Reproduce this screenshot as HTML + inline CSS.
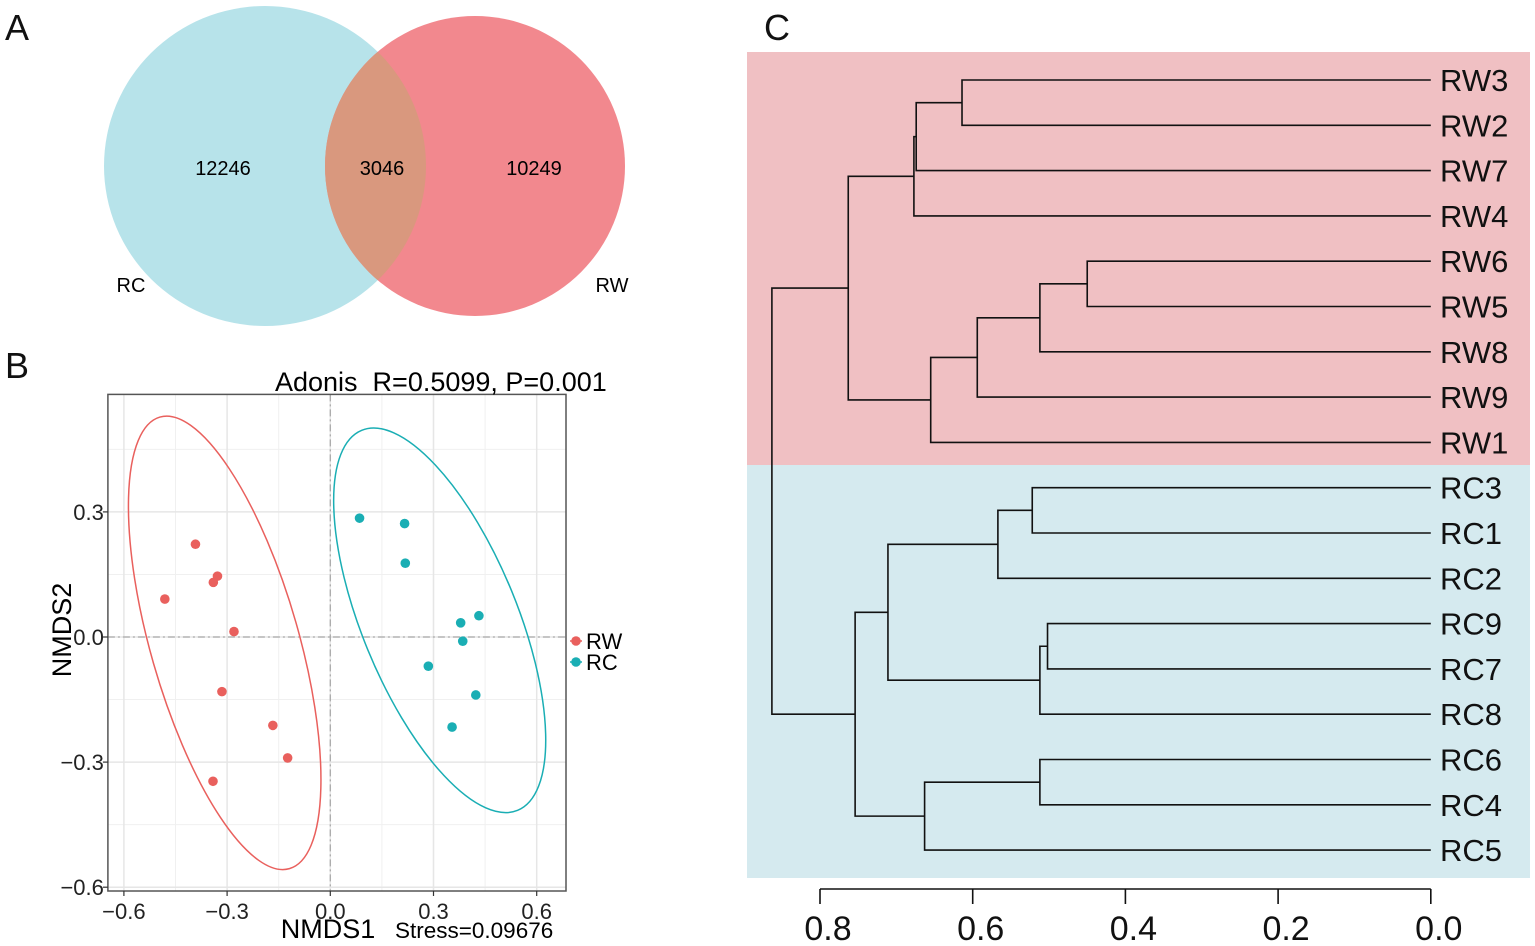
<!DOCTYPE html>
<html><head><meta charset="utf-8">
<style>
html,body{margin:0;padding:0;background:#fff;}
svg{display:block;font-family:"Liberation Sans",Arial,sans-serif;}
</style></head>
<body>
<svg id="fig" width="1535" height="946" viewBox="0 0 1535 946" xmlns="http://www.w3.org/2000/svg">
  <g id="panelA">
    <text x="5" y="40" font-size="36" fill="#111">A</text>
    <defs><clipPath id="clipBlue"><ellipse cx="265" cy="166" rx="161" ry="160"/></clipPath></defs>
    <ellipse cx="265" cy="166" rx="161" ry="160" fill="#b7e3ea"/>
    <ellipse cx="475" cy="166" rx="150" ry="150" fill="#f2888e"/>
    <ellipse cx="475" cy="166" rx="150" ry="150" fill="#d9987e" clip-path="url(#clipBlue)"/>
    <text x="223" y="175" font-size="20" text-anchor="middle">12246</text>
    <text x="382" y="175" font-size="20" text-anchor="middle">3046</text>
    <text x="534" y="175" font-size="20" text-anchor="middle">10249</text>
    <text x="131" y="292" font-size="20" text-anchor="middle">RC</text>
    <text x="612" y="292" font-size="20" text-anchor="middle">RW</text>
  </g>
  <g id="panelB">
    <text x="5" y="378" font-size="36" fill="#111">B</text>
    <g id="bGrid"></g>
    <g id="bMarks"></g>
    <g id="bAxes"></g>
    <text x="275" y="391" font-size="27">Adonis&#160;&#160;R=0.5099, P=0.001</text>
    <text x="328" y="938" font-size="27" text-anchor="middle">NMDS1</text>
    <text x="395" y="938" font-size="22.5">Stress=0.09676</text>
    <text transform="translate(71,630) rotate(-90)" font-size="27" text-anchor="middle">NMDS2</text>
    <g>
      <g>
        <line x1="570" y1="641" x2="582" y2="641" stroke="#e9605d" stroke-width="1.5"/>
        <circle cx="576" cy="641" r="4.8" fill="#e9605d"/>
        <text x="586" y="649" font-size="22">RW</text>
      </g>
      <g>
        <line x1="570" y1="662" x2="582" y2="662" stroke="#1aaeb4" stroke-width="1.5"/>
        <circle cx="576" cy="662" r="4.8" fill="#1aaeb4"/>
        <text x="586" y="670" font-size="22">RC</text>
      </g>
    </g>
  </g>
  <g id="panelC">
    <text x="764" y="40" font-size="36" fill="#111">C</text>
    <rect x="747" y="52" width="783" height="413" fill="#f0c0c3"/>
    <rect x="747" y="465" width="783" height="413" fill="#d5eaef"/>
    <g id="cTree"></g>
    <g id="cAxis"></g>
  </g>
</svg>
<script>
const rwX = [-0.392,-0.328,-0.340,-0.481,-0.280,-0.315,-0.167,-0.124,-0.341];
const rwY = [0.2225,0.146,0.131,0.091,0.013,-0.131,-0.212,-0.290,-0.346];
const rcX = [0.085,0.216,0.218,0.432,0.379,0.385,0.285,0.423,0.354];
const rcY = [0.285,0.272,0.177,0.051,0.034,-0.010,-0.070,-0.139,-0.216];
const ellipseCenterX = [-0.307,0.318];
const ellipseCenterY = [-0.014,0.040];
const bXTicks = [-0.6,-0.3,0.0,0.3,0.6];
const bXTickLabels = ["\u22120.6","\u22120.3","0.0","0.3","0.6"];
const bYTicks = [0.3,0.0,-0.3,-0.6];
const bYTickLabels = ["0.3","0.0","\u22120.3","\u22120.6"];
const bMinorX = [-0.45,-0.15,0.15,0.45];
const bMinorY = [0.45,0.15,-0.15,-0.45];
const leaves = ["RW3","RW2","RW7","RW4","RW6","RW5","RW8","RW9","RW1","RC3","RC1","RC2","RC9","RC7","RC8","RC6","RC4","RC5"];
const mergeA = ["RW3","c0","c1","RW6","c3","c4","c5","c2","RC3","c8","RC9","c10","c9","RC6","c13","c12","c7"];
const mergeB = ["RW2","RW7","RW4","RW5","RW8","RW9","RW1","c6","RC1","RC2","RC7","RC8","c11","RC4","RC5","c14","c15"];
const mergeH = [0.614,0.674,0.677,0.450,0.512,0.594,0.655,0.763,0.522,0.567,0.502,0.512,0.711,0.512,0.663,0.754,0.863];
const cTicks = [0.8,0.6,0.4,0.2,0.0];
const cTickLabels = ["0.8","0.6","0.4","0.2","0.0"];

const NS="http://www.w3.org/2000/svg";
function mk(tag, attrs, parent){const e=document.createElementNS(NS,tag);for(const k in attrs)e.setAttribute(k,attrs[k]);parent.appendChild(e);return e;}

const bx = v => 330.3 + v*344;
const by = v => 637 - v*417;
const L=107.9,R=566,T=394.4,B=891;
const g=document.getElementById('bGrid');
const frame=mk('rect',{x:L,y:T,width:R-L,height:B-T,fill:'#fff'},g);


bMinorX.forEach(v=>{
  const a=mk('line',{x1:bx(v),x2:bx(v),y1:T,y2:B,stroke:'#f0f0f0','stroke-width':1},g);
  
  
});
bMinorY.forEach(v=>{
  const b=mk('line',{x1:L,x2:R,y1:by(v),y2:by(v),stroke:'#f0f0f0','stroke-width':1},g);
  
  
});
bXTicks.forEach(v=>{
  const a=mk('line',{x1:bx(v),x2:bx(v),y1:T,y2:B,stroke:'#e6e6e6','stroke-width':1.5},g);
  
  
});
bYTicks.forEach(v=>{
  const b=mk('line',{x1:L,x2:R,y1:by(v),y2:by(v),stroke:'#e6e6e6','stroke-width':1.5},g);
  
  
});
const z1=mk('line',{x1:bx(0),x2:bx(0),y1:T,y2:B,stroke:'#aaa','stroke-width':1.3,'stroke-dasharray':'7 3 2 3'},g);


const z2=mk('line',{x1:L,x2:R,y1:by(0),y2:by(0),stroke:'#aaa','stroke-width':1.3,'stroke-dasharray':'7 3 2 3'},g);



const m=document.getElementById('bMarks');
const eParams=[[234.9,74.1,-16.0,'#e9605d'],[205.4,77.7,-22.3,'#1aaeb4']];
for(let i=0;i<2;i++){
  const cx=bx(ellipseCenterX[i]), cy=by(ellipseCenterY[i]);
  const p=eParams[i];
  const el=mk('ellipse',{cx:cx,cy:cy,rx:p[1],ry:p[0],fill:'none',stroke:p[3],'stroke-width':1.5,transform:`rotate(${p[2]} ${cx} ${cy})`},m);
  
  
}
rwX.forEach((v,i)=>{
  const c=mk('circle',{cx:bx(v),cy:by(rwY[i]),r:4.8,fill:'#e9605d'},m);
  
  
});
rcX.forEach((v,i)=>{
  const c=mk('circle',{cx:bx(v),cy:by(rcY[i]),r:4.8,fill:'#1aaeb4'},m);
  
  
});
const ax=document.getElementById('bAxes');
const fr=mk('rect',{x:L,y:T,width:R-L,height:B-T,fill:'none',stroke:'#555','stroke-width':1.5},ax);


bXTicks.forEach((v,i)=>{
  mk('line',{x1:bx(v),x2:bx(v),y1:B,y2:B+5,stroke:'#333','stroke-width':1.2},ax);
  const t=mk('text',{x:bx(v),y:919,'font-size':22,'text-anchor':'middle',fill:'#222'},ax);
  t.textContent=bXTickLabels[i];
  
  
});
bYTicks.forEach((v,i)=>{
  mk('line',{x1:L-5,x2:L,y1:by(v),y2:by(v),stroke:'#333','stroke-width':1.2},ax);
  const u=mk('text',{x:L-4,y:by(v)+8,'font-size':22,'text-anchor':'end',fill:'#222'},ax);
  u.textContent=bYTickLabels[i];
  
  
});

const cx = h => 1430.8 - h*763.5;
const leafY = i => 80 + i*45.3;
const pos={};
leaves.forEach((n,i)=>{pos[n]={y:leafY(i),h:0};});
const tree=document.getElementById('cTree');
mergeA.forEach((a,i)=>{
  const b=mergeB[i], h=mergeH[i];
  const pa=pos[a], pb=pos[b], xh=cx(h);
  const pth=mk('path',{d:`M${cx(pa.h)},${pa.y}H${xh}V${pb.y}H${cx(pb.h)}`,fill:'none',stroke:'#111','stroke-width':1.6},tree);
  
  
  pos['c'+i]={y:(pa.y+pb.y)/2,h:h};
});
leaves.forEach((n,i)=>{
  const t=mk('text',{x:1440,y:leafY(i)+11,'font-size':31,fill:'#111'},tree);
  t.textContent=n;
  
  
});
const ca=document.getElementById('cAxis');
const al=mk('line',{x1:cx(cTicks[0]),x2:cx(cTicks[cTicks.length-1]),y1:889,y2:889,stroke:'#111','stroke-width':1.6},ca);


cTicks.forEach((v,i)=>{
  mk('line',{x1:cx(v),x2:cx(v),y1:889,y2:904,stroke:'#111','stroke-width':1.6},ca);
  const t=mk('text',{x:cx(v)+8,y:940,'font-size':34,'text-anchor':'middle',fill:'#111'},ca);
  t.textContent=cTickLabels[i];
  
  
});
</script>
</body></html>
